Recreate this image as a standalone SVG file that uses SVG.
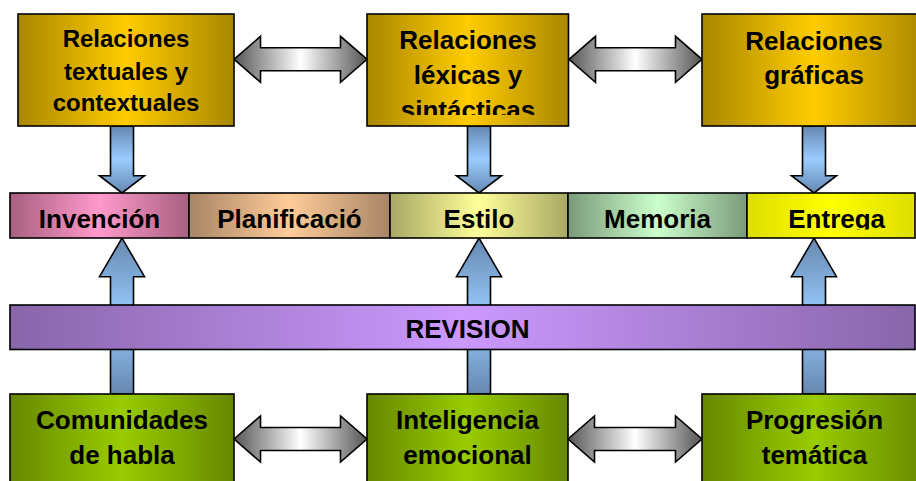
<svg xmlns="http://www.w3.org/2000/svg" width="916" height="481" viewBox="0 0 916 481">
<style>
.t{font-family:"Liberation Sans",Arial,sans-serif;font-weight:bold;fill:#000;text-anchor:middle;font-size:26px}
.s{font-size:24px}
.b{stroke:#000;stroke-width:1.6}
</style>
<defs>
<linearGradient id="gold" x1="0" y1="0" x2="1" y2="0"><stop offset="0" stop-color="#a98700"/><stop offset="0.5" stop-color="#ffcc00"/><stop offset="1" stop-color="#a98700"/></linearGradient>
<linearGradient id="green" x1="0" y1="0" x2="1" y2="0"><stop offset="0" stop-color="#668800"/><stop offset="0.5" stop-color="#99cc00"/><stop offset="1" stop-color="#668800"/></linearGradient>
<linearGradient id="pink" x1="0" y1="0" x2="1" y2="0"><stop offset="0" stop-color="#a8607f"/><stop offset="0.5" stop-color="#ff99cc"/><stop offset="1" stop-color="#a8607f"/></linearGradient>
<linearGradient id="peach" x1="0" y1="0" x2="1" y2="0"><stop offset="0" stop-color="#a88566"/><stop offset="0.5" stop-color="#ffcc99"/><stop offset="1" stop-color="#a88566"/></linearGradient>
<linearGradient id="lemon" x1="0" y1="0" x2="1" y2="0"><stop offset="0" stop-color="#a8a865"/><stop offset="0.5" stop-color="#ffff99"/><stop offset="1" stop-color="#a8a865"/></linearGradient>
<linearGradient id="mint" x1="0" y1="0" x2="1" y2="0"><stop offset="0" stop-color="#7a9a7a"/><stop offset="0.5" stop-color="#ccffcc"/><stop offset="1" stop-color="#7a9a7a"/></linearGradient>
<linearGradient id="yellow" x1="0" y1="0" x2="1" y2="0"><stop offset="0" stop-color="#dede00"/><stop offset="0.5" stop-color="#ffff00"/><stop offset="1" stop-color="#dede00"/></linearGradient>
<linearGradient id="purple" x1="0" y1="0" x2="1" y2="0"><stop offset="0" stop-color="#8866aa"/><stop offset="0.5" stop-color="#cc99ff"/><stop offset="1" stop-color="#8866aa"/></linearGradient>
<linearGradient id="blue" x1="0" y1="0" x2="0" y2="1"><stop offset="0" stop-color="#6688b0"/><stop offset="0.5" stop-color="#99ccff"/><stop offset="1" stop-color="#6688b0"/></linearGradient>
<linearGradient id="gray" x1="0" y1="0" x2="1" y2="0"><stop offset="0" stop-color="#555555"/><stop offset="0.5" stop-color="#ffffff"/><stop offset="1" stop-color="#555555"/></linearGradient>
<clipPath id="clipB2"><rect x="368" y="15" width="200" height="100"/></clipPath>
<clipPath id="clipEnt"><rect x="748" y="194" width="170" height="35.5"/></clipPath>
</defs>
<g id="connectors">
<path class="b" fill="url(#blue)" d="M110.5,126 H133.5 V175.7 H144.5 L122,193 L99.5,175.7 H110.5 Z"/>
<path class="b" fill="url(#blue)" d="M467.5,126 H490.5 V175.7 H501.5 L479,193 L456.5,175.7 H467.5 Z"/>
<path class="b" fill="url(#blue)" d="M802.5,126 H825.5 V175.7 H836.5 L814,193 L791.5,175.7 H802.5 Z"/>
<path class="b" fill="url(#blue)" d="M110.5,394 H133.5 V276.7 H144.5 L122,238 L99.5,276.7 H110.5 Z"/>
<path class="b" fill="url(#blue)" d="M467.5,394 H490.5 V276.7 H501.5 L479,238 L456.5,276.7 H467.5 Z"/>
<path class="b" fill="url(#blue)" d="M802.5,394 H825.5 V276.7 H836.5 L814,238 L791.5,276.7 H802.5 Z"/>
<path class="b" fill="url(#gray)" d="M234,59.3 L260.5,36.3 V47.8 H340.5 V36.3 L367,59.3 L340.5,82.3 V70.8 H260.5 V82.3 Z"/>
<path class="b" fill="url(#gray)" d="M569,59.3 L595.5,36.3 V47.8 H675.5 V36.3 L702,59.3 L675.5,82.3 V70.8 H595.5 V82.3 Z"/>
<path class="b" fill="url(#gray)" d="M234,439 L260.5,416 V427.5 H340.5 V416 L367,439 L340.5,462 V450.5 H260.5 V462 Z"/>
<path class="b" fill="url(#gray)" d="M568,439 L594.5,416 V427.5 H675.5 V416 L702,439 L675.5,462 V450.5 H594.5 V462 Z"/>
</g>
<g id="box-textuales">
<rect class="b" x="18" y="14" width="216" height="112" fill="url(#gold)"/>
<text class="t s" x="126" y="47">Relaciones</text>
<text class="t s" x="126" y="79.5">textuales y</text>
<text class="t s" x="126" y="110.5">contextuales</text>
</g>
<g id="box-lexicas">
<rect class="b" x="367" y="14" width="201.5" height="112" fill="url(#gold)"/>
<g clip-path="url(#clipB2)">
<text class="t" x="468" y="48.5">Relaciones</text>
<text class="t" x="468" y="83.5">léxicas y</text>
<text class="t" x="468" y="118.5">sintácticas</text>
</g>
</g>
<g id="box-graficas">
<rect class="b" x="702" y="14" width="224" height="112" fill="url(#gold)"/>
<text class="t" x="814" y="49.5">Relaciones</text>
<text class="t" x="814" y="84">gráficas</text>
</g>
<g id="stage-invencion">
<rect class="b" x="10" y="193" width="179" height="45" fill="url(#pink)"/>
<text class="t" x="99.5" y="227.5">Invención</text>
</g>
<g id="stage-planificacion">
<rect class="b" x="189" y="193" width="201" height="45" fill="url(#peach)"/>
<text class="t" x="289.5" y="227.5">Planificació</text>
</g>
<g id="stage-estilo">
<rect class="b" x="390" y="193" width="178" height="45" fill="url(#lemon)"/>
<text class="t" x="479" y="227.5">Estilo</text>
</g>
<g id="stage-memoria">
<rect class="b" x="568" y="193" width="179" height="45" fill="url(#mint)"/>
<text class="t" x="657.5" y="227.5">Memoria</text>
</g>
<g id="stage-entrega">
<rect class="b" x="747" y="193" width="168" height="45" fill="url(#yellow)"/>
<text class="t" x="836.7" y="227.5" clip-path="url(#clipEnt)">Entrega</text>
</g>
<g id="revision">
<rect class="b" x="10" y="305" width="905" height="44.5" fill="url(#purple)"/>
<text class="t" x="467.5" y="338.3">REVISION</text>
</g>
<g id="box-comunidades">
<rect class="b" x="10" y="394" width="224" height="100" fill="url(#green)"/>
<text class="t" x="122" y="429">Comunidades</text>
<text class="t" x="122" y="464">de habla</text>
</g>
<g id="box-inteligencia">
<rect class="b" x="367" y="394" width="201" height="100" fill="url(#green)"/>
<text class="t" x="467.5" y="429">Inteligencia</text>
<text class="t" x="467.5" y="464">emocional</text>
</g>
<g id="box-progresion">
<rect class="b" x="702" y="394" width="225" height="100" fill="url(#green)"/>
<text class="t" x="814.5" y="429">Progresión</text>
<text class="t" x="814.5" y="464">temática</text>
</g>
</svg>
